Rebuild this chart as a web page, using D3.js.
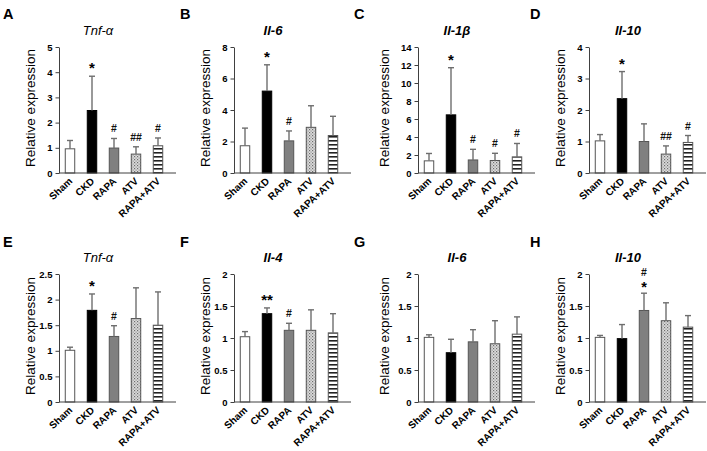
<!DOCTYPE html>
<html><head><meta charset="utf-8">
<script src="https://cdn.jsdelivr.net/npm/d3@7"></script>
<style>
body{margin:0;background:#fff;}
svg{display:block;font-family:Arial,"Liberation Sans",sans-serif;}
</style></head>
<body><svg id="c" width="707" height="451"></svg>
<script>
const groups = ["Sham","CKD","RAPA","ATV","RAPA+ATV"];
const letters = ["A","B","C","D","E","F","G","H"];
const titles = ["Tnf-α","Il-6","Il-1β","Il-10","Tnf-α","Il-4","Il-6","Il-10"];
const yTicksA = [0,1,2,3,4,5];
const yTicksB = [0,2,4,6,8];
const yTicksC = [0,2,4,6,8,10,12,14];
const yTicksD = [0,1,2,3,4];
const yTicksE = [0,0.5,1,1.5,2,2.5];
const yTicksFGH = [0,0.5,1,1.5,2];

const meanA = [0.96,2.48,0.99,0.75,1.08], sdA = [0.33,1.36,0.38,0.29,0.31];
const meanB = [1.73,5.2,2.04,2.9,2.38],  sdB = [1.12,1.67,0.63,1.37,1.22];
const meanC = [1.35,6.46,1.45,1.39,1.79], sdC = [0.82,5.24,1.18,0.8,1.49];
const meanD = [1.02,2.36,1.0,0.6,0.97],  sdD = [0.2,0.86,0.56,0.26,0.22];
const meanE = [1.01,1.79,1.28,1.63,1.5], sdE = [0.06,0.32,0.21,0.6,0.65];
const meanF = [1.02,1.38,1.12,1.12,1.08], sdF = [0.08,0.09,0.11,0.32,0.3];
const meanG = [1.01,0.77,0.94,0.91,1.06], sdG = [0.04,0.21,0.19,0.36,0.27];
const meanH = [1.01,0.99,1.43,1.27,1.17], sdH = [0.03,0.22,0.27,0.28,0.18];

const starA = ["","*","","",""], hashA = ["","","#","##","#"];
const starB = ["","*","","",""], hashB = ["","","#","",""];
const starC = ["","*","","",""], hashC = ["","","#","#","#"];
const starD = ["","*","","",""], hashD = ["","","","##","#"];
const starE = ["","*","","",""], hashE = ["","","#","",""];
const starF = ["","**","","",""], hashF = ["","","#","",""];
const starG = ["","","","",""], hashG = ["","","","",""];
const starH = ["","","*","",""], hashH = ["","","#","",""];

const panels = [
 {m:meanA,s:sdA,t:yTicksA,st:starA,h:hashA},
 {m:meanB,s:sdB,t:yTicksB,st:starB,h:hashB},
 {m:meanC,s:sdC,t:yTicksC,st:starC,h:hashC},
 {m:meanD,s:sdD,t:yTicksD,st:starD,h:hashD},
 {m:meanE,s:sdE,t:yTicksE,st:starE,h:hashE},
 {m:meanF,s:sdF,t:yTicksFGH,st:starF,h:hashF},
 {m:meanG,s:sdG,t:yTicksFGH,st:starG,h:hashG},
 {m:meanH,s:sdH,t:yTicksFGH,st:starH,h:hashH}
];

const svg = d3.select("#c");
const defs = svg.append("defs");
const p1 = defs.append("pattern").attr("id","dots").attr("patternUnits","userSpaceOnUse").attr("width",3).attr("height",3);
p1.append("rect").attr("width",3).attr("height",3).attr("fill","#dcdcdc");
p1.append("rect").attr("x",0).attr("y",0).attr("width",1.2).attr("height",1.2).attr("fill","#6e6e6e");
p1.append("rect").attr("x",1.5).attr("y",1.5).attr("width",1.2).attr("height",1.2).attr("fill","#8e8e8e");
const p2 = defs.append("pattern").attr("id","stripes").attr("patternUnits","userSpaceOnUse").attr("width",4).attr("height",4);
p2.append("rect").attr("width",4).attr("height",4).attr("fill","#fff");
p2.append("rect").attr("x",0).attr("y",0).attr("width",4).attr("height",1.6).attr("fill","#222");

const fills = ["#ffffff","#000000","#808080","url(#dots)","url(#stripes)"];
const colX = [59,234,418,589];
const rowTop = [47,274], rowBot = [173,402];
const letterX = [3,180,354,530], letterY = [19,247];
const titleY = [35,262];
const axisColor = "#404040";

panels.forEach((p,i)=>{
  const col = i%4, row = Math.floor(i/4);
  const ox = colX[col], top = rowTop[row], bot = rowBot[row];
  const g = svg.append("g").attr("transform",`translate(${ox},0)`);
  const x = d3.scaleBand().domain(groups).range([0,110]).paddingInner(0.57).paddingOuter(0.285);
  const y = d3.scaleLinear().domain([0,p.t[p.t.length-1]]).range([bot,top]);

  svg.append("text").attr("x",letterX[col]).attr("y",letterY[row]).attr("font-size",14.5).attr("font-weight","bold").text(letters[i]);
  svg.append("text").attr("x",ox+39).attr("y",titleY[row]).attr("text-anchor","middle")
     .attr("font-size",13).attr("font-style","italic").attr("font-weight", titles[i].startsWith("Il")?"bold":"normal").text(titles[i]);
  svg.append("text").attr("transform",`translate(${ox-(col===2?34:29)+4.5},${(top+bot)/2-2}) rotate(-90)`)
     .attr("text-anchor","middle").attr("font-size",13.5).text("Relative expression");

  // y axis
  const ya = g.append("g").call(d3.axisLeft(y).tickValues(p.t).tickSize(3.5).tickPadding(3).tickFormat(d3.format("~g")).tickSizeOuter(0));
  ya.select(".domain").attr("stroke",axisColor);
  ya.selectAll(".tick line").attr("stroke",axisColor);
  ya.selectAll(".tick text").attr("font-size",9.5).attr("font-weight","bold").attr("fill","#000").attr("font-family","Arial,'Liberation Sans',sans-serif");

  // bars
  g.selectAll("rect.bar").data(groups).enter().append("rect").attr("class","bar")
    .attr("x",d=>x(d)).attr("width",x.bandwidth())
    .attr("y",(d,k)=>y(p.m[k])).attr("height",(d,k)=>bot-y(p.m[k]))
    .attr("fill",(d,k)=>fills[k]).attr("stroke",(d,k)=>k===1?"#000":"#555").attr("stroke-width",1);

  // error bars + significance marks
  groups.forEach((d,k)=>{
    const cx = x(d)+x.bandwidth()/2, yt = y(p.m[k]+p.s[k]), yb = y(p.m[k]);
    g.append("line").attr("x1",cx).attr("x2",cx).attr("y1",yb).attr("y2",yt).attr("stroke","#6e6e6e").attr("stroke-width",1.4);
    g.append("line").attr("x1",cx-3).attr("x2",cx+3).attr("y1",yt).attr("y2",yt).attr("stroke","#6e6e6e").attr("stroke-width",1.4);
    if(p.st[k] && p.h[k]){
      g.append("text").attr("x",cx).attr("y",yt-17).attr("text-anchor","middle").attr("font-size",10.5).attr("font-weight","bold").attr("fill","#111").text(p.h[k]);
      g.append("text").attr("x",cx).attr("y",yt-1).attr("text-anchor","middle").attr("font-size",14.5).attr("font-weight","bold").text(p.st[k]);
    } else if(p.st[k]){
      g.append("text").attr("x",cx).attr("y",yt-3).attr("text-anchor","middle").attr("font-size",15).attr("font-weight","bold").text(p.st[k]);
    } else if(p.h[k]){
      g.append("text").attr("x",cx).attr("y",yt-6).attr("text-anchor","middle").attr("font-size",10.5).attr("font-weight","bold").attr("fill","#111").text(p.h[k]);
    }
  });

  // x axis
  const xa = g.append("g").attr("transform",`translate(0,${bot})`).call(d3.axisBottom(x).tickSize(0).tickSizeOuter(0));
  xa.select(".domain").remove();
  g.append("line").attr("x1",0).attr("x2",117).attr("y1",bot).attr("y2",bot).attr("stroke",axisColor);
  xa.selectAll(".tick text").attr("font-size",10).attr("font-weight","bold").attr("fill","#000")
    .attr("font-family","Arial,'Liberation Sans',sans-serif")
    .attr("text-anchor","end").attr("dy",null).attr("y",0)
    .attr("transform","translate(3,9) rotate(-43)");
});
</script></body></html>
